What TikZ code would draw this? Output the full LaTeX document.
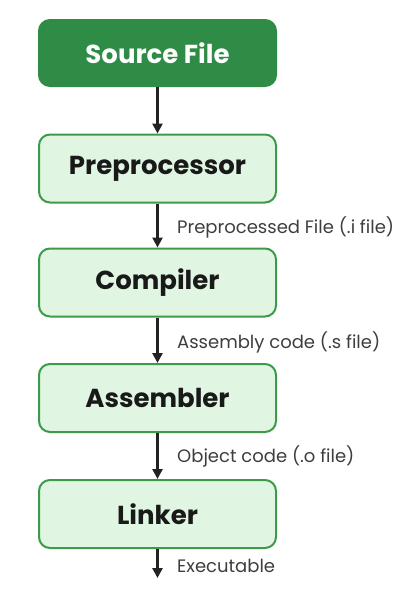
\documentclass[tikz,border=0pt]{standalone}
\usepackage{fontspec}
\setmainfont{Poppins}
\usetikzlibrary{arrows.meta}
\definecolor{darkg}{HTML}{2F8C46}
\definecolor{lightg}{HTML}{E1F6E2}
\definecolor{edgeg}{HTML}{3C9A4A}
\definecolor{arrowc}{HTML}{222222}
\definecolor{labelc}{HTML}{3E3E3E}
\begin{document}
\begin{tikzpicture}[x=1pt,y=1pt,
  stagebox/.style={draw=edgeg, line width=2pt, fill=lightg, rounded corners=11pt,
    minimum width=237pt, minimum height=68pt, inner sep=0pt,
    font=\fontsize{26}{30}\selectfont\bfseries, text=black!90},
  srcbox/.style={stagebox, draw=darkg, fill=darkg, text=white, minimum height=66pt},
  flow/.style={draw=arrowc, line width=2.5pt, -{Triangle[width=10pt,length=10pt]}},
  flowlabel/.style={anchor=west, font=\fontsize{18}{20}\selectfont, text=labelc, inner sep=0pt}
]
\useasboundingbox (0,0) rectangle (416,-603);
\node[srcbox] (src) at (157.5,-53) {Source File};
\node[stagebox] (pre) at (157.5,-168.5) {Preprocessor};
\node[stagebox] (comp) at (157.5,-282.5) {Compiler};
\node[stagebox] (asm) at (157.5,-398) {Assembler};
\node[stagebox] (link) at (157.5,-514) {Linker};
\coordinate (out) at (157.5,-578);
\draw[flow] (src) -- (pre);
\draw[flow] (pre) -- (comp);
\draw[flow] (comp) -- (asm);
\draw[flow] (asm) -- (link);
\draw[flow] (link) -- (out);
\node[flowlabel] (l1) at (177,-227) {Preprocessed File (.i file)};
\node[flowlabel] (l2) at (177,-342) {Assembly code (.s file)};
\node[flowlabel] (l3) at (177,-456) {Object code (.o file)};
\node[flowlabel] (l4) at (177,-566) {Executable};
\end{tikzpicture}
\end{document}
